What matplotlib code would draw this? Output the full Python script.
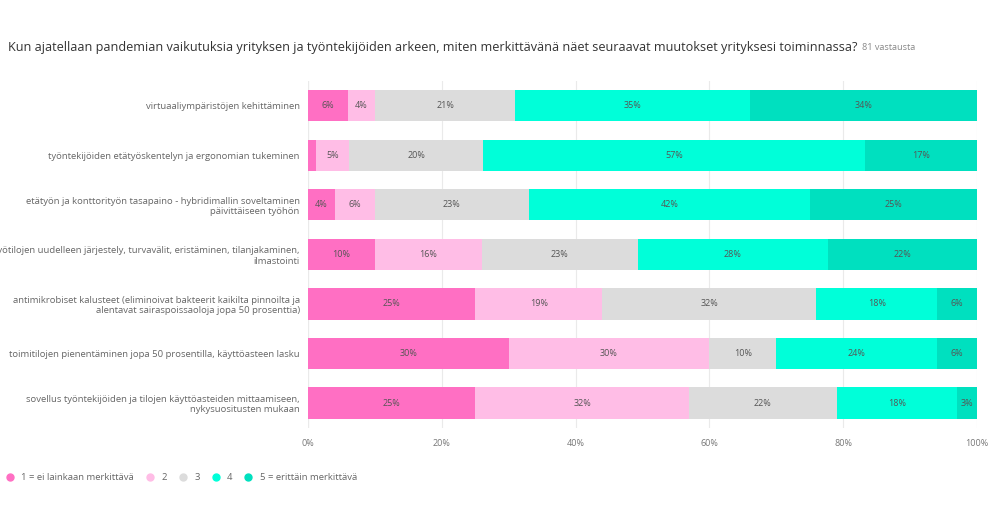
import numpy as np
import matplotlib.pyplot as plt

plt.rcParams['font.family'] = ['Open Sans', 'DejaVu Sans']

categories = [
    'virtuaaliympäristöjen kehittäminen',
    'työntekijöiden etätyöskentelyn ja ergonomian tukeminen',
    'etätyön ja konttorityön tasapaino - hybridimallin soveltaminen\npäivittäiseen työhön',
    'työtilojen uudelleen järjestely, turvavälit, eristäminen, tilanjakaminen,\nilmastointi',
    'antimikrobiset kalusteet (eliminoivat bakteerit kaikilta pinnoilta ja\nalentavat sairaspoissaoloja jopa 50 prosenttia)',
    'toimitilojen pienentäminen jopa 50 prosentilla, käyttöasteen lasku',
    'sovellus työntekijöiden ja tilojen käyttöasteiden mittaamiseen,\nnykysuositusten mukaan',
]
series_names = ['1 = ei lainkaan merkittävä', '2', '3', '4', '5 = erittäin merkittävä']
# shares in percent (rows = statements, columns = answer 1..5)
values = np.array([
    [6, 4, 21, 35, 34],
    [1.2, 5, 20, 57, 17],
    [4, 6, 23, 42, 25],
    [10, 16, 23.3, 28.4, 22.3],
    [25, 19, 32, 18, 6],
    [30, 30, 10, 24, 6],
    [25, 32, 22, 18, 3],
])
colors = ['#ff6fc3', '#ffbde6', '#dcdcdc', '#00ffd9', '#00e0bf']
xticks = [0, 20, 40, 60, 80, 100]

fig = plt.figure(figsize=(10, 5.25), dpi=100)
ax = fig.add_axes([0.308, 0.185, 0.669, 0.661])

y = np.arange(len(categories))
left = np.zeros(len(categories))
for j, name in enumerate(series_names):
    ax.barh(y, values[:, j], left=left, height=0.63, color=colors[j], label=name, zorder=2)
    for i in range(len(categories)):
        v = values[i, j]
        if v >= 3:
            ax.text(left[i] + v / 2, y[i], f'{int(v)}%', ha='center', va='center',
                    fontsize=6.5, color='#555555', zorder=3)
    left += values[:, j]

ax.set_xlim(0, 100)
ax.set_ylim(len(categories) - 0.5, -0.5)
ax.set_yticks(y)
ax.set_yticklabels(categories, fontsize=6.8, color='#666666')
ax.set_xticks(xticks)
ax.set_xticklabels([f'{t}%' for t in xticks], fontsize=6.5, color='#777777')
ax.tick_params(length=0, pad=8)
ax.tick_params(axis='y', pad=6)
for s in ax.spines.values():
    s.set_visible(False)
ax.grid(axis='x', color='#eaeaea', linewidth=0.8, zorder=0)
ax.axvline(0, color='#dddddd', linewidth=0.8, zorder=1)

t = fig.text(0.008, 0.91, 'Kun ajatellaan pandemian vaikutuksia yrityksen ja työntekijöiden arkeen, '
             'miten merkittävänä näet seuraavat muutokset yrityksesi toiminnassa?',
             fontsize=9.05, color='#333333', va='center')
fig.canvas.draw()
bb = t.get_window_extent().transformed(fig.transFigure.inverted())
fig.text(bb.x1 + 0.004, 0.91, '81 vastausta', fontsize=6.6, color='#888888', va='center')

handles = [plt.Line2D([], [], marker='o', linestyle='', markersize=5, color=c) for c in colors]
fig.legend(handles, series_names, loc='center left', bbox_to_anchor=(0.005, 0.09), ncol=5,
           frameon=False, fontsize=6.8, labelcolor='#666666', handletextpad=0.7,
           handlelength=1.0, columnspacing=1.2, borderpad=0, borderaxespad=0)

fig.savefig('out.png', dpi=100)
